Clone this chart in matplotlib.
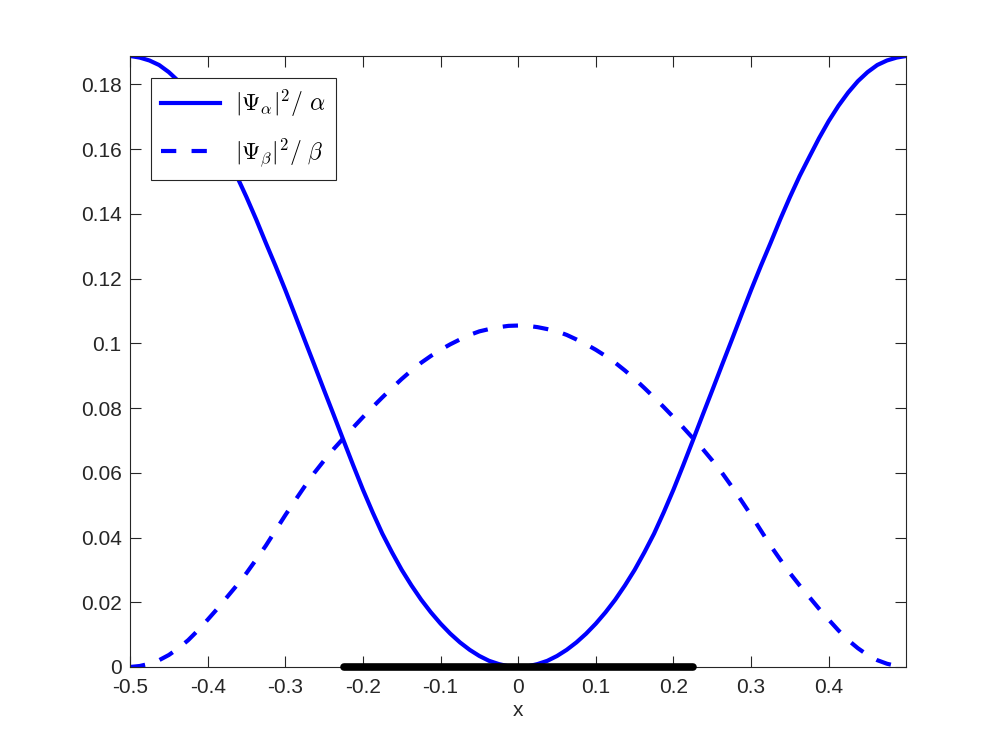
import numpy as np
import matplotlib
matplotlib.use("Agg")
import matplotlib.pyplot as plt

plt.rcParams['font.family'] = ['Liberation Sans', 'DejaVu Sans']
plt.rcParams['mathtext.fontset'] = 'cm'
plt.rcParams['lines.scale_dashes'] = False

# x grid (step 0.0125)
x = np.round(np.arange(-0.5, 0.5001, 0.0125), 4)

# |Psi_alpha|^2 / alpha
psi_a = [0.1888, 0.1883, 0.1874, 0.1860, 0.1838, 0.1810, 0.1775, 0.1734, 0.1687, 0.1634,
         0.1576, 0.1517, 0.1452, 0.1383, 0.1310, 0.1239, 0.1165, 0.1088, 0.1010, 0.0933,
         0.0855, 0.0778, 0.0700, 0.0623, 0.0548, 0.0478, 0.0412, 0.0354, 0.0300, 0.0252,
         0.0208, 0.0169, 0.0134, 0.0103, 0.0076, 0.0053, 0.0034, 0.0019, 0.0009, 0.0002,
         0.0,
         0.0002, 0.0009, 0.0019, 0.0034, 0.0053, 0.0076, 0.0103, 0.0134, 0.0169, 0.0208,
         0.0252, 0.0300, 0.0354, 0.0412, 0.0478, 0.0548, 0.0623, 0.0700, 0.0778, 0.0855,
         0.0933, 0.1010, 0.1088, 0.1165, 0.1239, 0.1310, 0.1383, 0.1452, 0.1517, 0.1576,
         0.1634, 0.1687, 0.1734, 0.1775, 0.1810, 0.1838, 0.1860, 0.1874, 0.1883, 0.1888]

# |Psi_beta|^2 / beta
psi_b = [0.0, 0.0003, 0.0010, 0.0021, 0.0037, 0.0058, 0.0083, 0.0113, 0.0146, 0.0180,
         0.0216, 0.0252, 0.0290, 0.0332, 0.0375, 0.0422, 0.0469, 0.0514, 0.0558, 0.0600,
         0.0638, 0.0674, 0.0707, 0.0740, 0.0772, 0.0803, 0.0833, 0.0862, 0.0890, 0.0916,
         0.0940, 0.0961, 0.0980, 0.0997, 0.1012, 0.1026, 0.1037, 0.1044, 0.1050, 0.1054,
         0.1055,
         0.1054, 0.1050, 0.1044, 0.1037, 0.1026, 0.1012, 0.0997, 0.0980, 0.0961, 0.0940,
         0.0916, 0.0890, 0.0862, 0.0833, 0.0803, 0.0772, 0.0740, 0.0707, 0.0674, 0.0638,
         0.0600, 0.0558, 0.0514, 0.0469, 0.0422, 0.0375, 0.0332, 0.0290, 0.0252, 0.0216,
         0.0180, 0.0146, 0.0113, 0.0083, 0.0058, 0.0037, 0.0021, 0.0010, 0.0003, 0.0]

# black segment on the x axis
seg_x = [-0.225, 0.225]
seg_y = [0.0, 0.0]

xticks = [-0.5, -0.4, -0.3, -0.2, -0.1, 0, 0.1, 0.2, 0.3, 0.4]
yticks = [0, 0.02, 0.04, 0.06, 0.08, 0.1, 0.12, 0.14, 0.16, 0.18]

axcol = '#262626'
fig = plt.figure(figsize=(10, 7.5), dpi=100)
ax = fig.add_axes([0.13, 0.1107, 0.776, 0.8147])

ax.plot(x, psi_a, color='#0000ff', lw=3, label=r'$|\Psi_\alpha|^2/\ \alpha$')
ax.plot(x, psi_b, color='#0000ff', lw=3, dashes=(11, 11), dash_capstyle='butt',
        label=r'$|\Psi_\beta|^2/\ \beta$')
ax.plot(seg_x, seg_y, color='black', lw=5.5, solid_capstyle='round', clip_on=False, zorder=5)

ax.set_xlim(-0.5, 0.4995)
ax.set_ylim(0, 0.1888)
ax.set_xticks(xticks)
ax.set_yticks(yticks)
ax.set_xticklabels(['%g' % v for v in xticks])
ax.set_yticklabels(['%g' % v for v in yticks])
ax.tick_params(direction='in', length=8, width=0.8, top=True, right=True,
               labelsize=15, colors=axcol)
ax.tick_params(axis='x', pad=8)
ax.tick_params(axis='y', pad=6)
for s in ax.spines.values():
    s.set_color(axcol)
    s.set_linewidth(0.8)
ax.set_xlabel('x', fontsize=15, color=axcol, labelpad=3)

leg = ax.legend(loc='upper left', bbox_to_anchor=(0.0267, 0.9645), borderaxespad=0,
                fontsize=17, handlelength=2.5, handletextpad=0.6, labelspacing=0.75,
                fancybox=False, framealpha=1, edgecolor=axcol, borderpad=0.45)
leg.get_frame().set_linewidth(0.8)

fig.savefig('out.png', dpi=100, facecolor='white')
